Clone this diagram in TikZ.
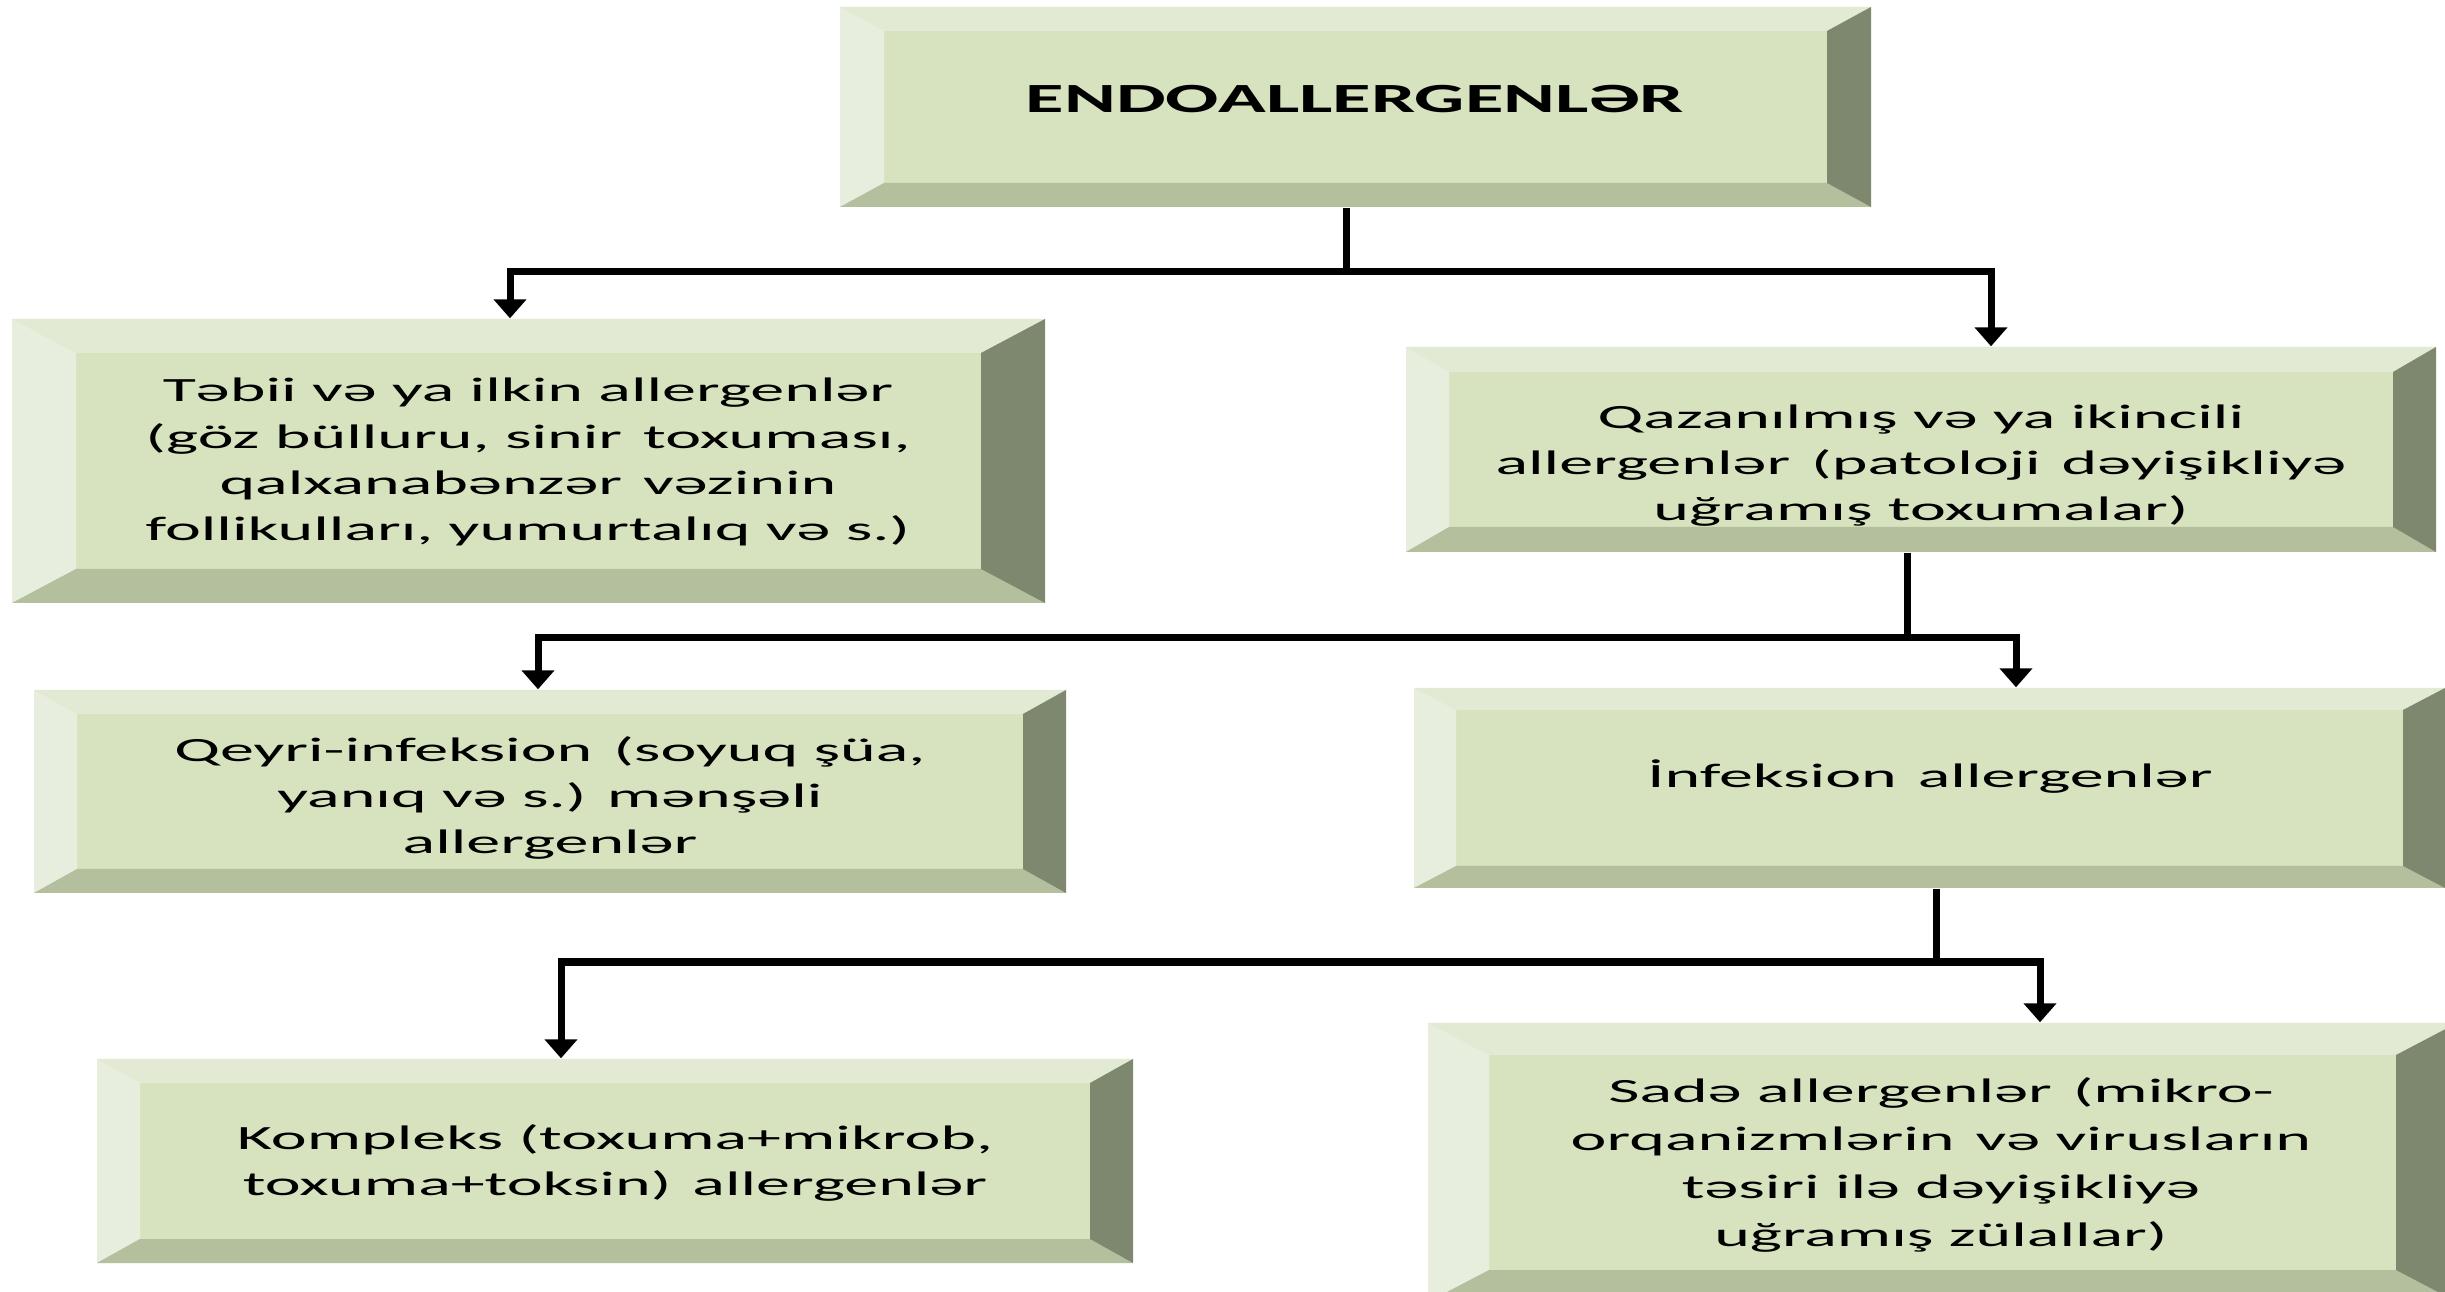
\documentclass[tikz,border=0pt]{standalone}
\usepackage{fontspec}
\usetikzlibrary{arrows.meta,fit}
\newfontfamily\boxfont{Carlito}[FakeStretch=2.0]
\newfontfamily\titlefont{Carlito}[FakeStretch=1.9]
\definecolor{faceC}{RGB}{215,227,191}
\definecolor{topC}{RGB}{226,234,211}
\definecolor{leftC}{RGB}{231,238,221}
\definecolor{botC}{RGB}{180,191,158}
\definecolor{rightC}{RGB}{126,136,110}
\newcommand\bevelbox[7]{%
  \fill[faceC] (#2,#3) rectangle (#4,#5);
  \fill[topC] (#2,#3) -- (#4,#3) -- ({#4-#6},{#3+#7}) -- ({#2+#6},{#3+#7}) -- cycle;
  \fill[leftC] (#2,#3) -- ({#2+#6},{#3+#7}) -- ({#2+#6},{#5-#7}) -- (#2,#5) -- cycle;
  \fill[botC] (#2,#5) -- ({#2+#6},{#5-#7}) -- ({#4-#6},{#5-#7}) -- (#4,#5) -- cycle;
  \fill[rightC] (#4,#3) -- (#4,#5) -- ({#4-#6},{#5-#7}) -- ({#4-#6},{#3+#7}) -- cycle;
  \node[fit={(#2,#3)(#4,#5)}, inner sep=0pt] (#1) {};
}
\tikzset{
  txt/.style={align=center, inner sep=0pt, text=black,
    font=\boxfont\fontsize{9.67pt}{13.1pt}\selectfont},
  txtw/.style={align=center, inner sep=0pt, text=black,
    font=\boxfont\fontsize{9.67pt}{13.7pt}\selectfont},
  ttl/.style={align=center, inner sep=0pt, text=black,
    font=\titlefont\bfseries\fontsize{11.8pt}{14pt}\selectfont},
  ln/.style={line width=0.07cm, draw=black},
  arr/.style={ln, -{Triangle[width=0.32cm,length=0.19cm]}}
}
\begin{document}
\begin{tikzpicture}[x=0.01cm,y=-0.01cm]
\useasboundingbox (0,0) rectangle (2445,1292);
\fill[white] (0,0) rectangle (2445,1292);
\clip (0,0) rectangle (2445,1292);

% boxes
\bevelbox{A}{840}{7}{1871}{207}{44}{24}
\bevelbox{B}{12}{319}{1045}{603}{64}{34}
\bevelbox{C}{1406}{347}{2436}{552}{43}{25}
\bevelbox{D}{34}{690}{1066}{893}{43}{24}
\bevelbox{E}{1414}{688}{2445}{888}{42}{22}
\bevelbox{F}{97}{1059}{1133}{1263}{43}{24}
\bevelbox{G}{1428}{1023}{2457}{1302}{61}{32}

% texts
\node[ttl] (At) at (1355,99) {ENDOALLERGENLƏR};
\node[txt] (Bt) at (528,462) {Təbii və ya ilkin allergenlər\\(göz bülluru, sinir\, toxuması,\\qalxanabənzər\, vəzinin\\follikulları, yumurtalıq və s.)};
\node[txt] (Ct) at (1921,466) {Qazanılmış və ya ikincili\\allergenlər\, (patoloji\, dəyişikliyə\\uğramış toxumalar)};
\node[txt] (Dt) at (550,798) {Qeyri-infeksion\, (soyuq şüa,\\yanıq və s.) mənşəli\\allergenlər};
\node[txt] (Et) at (1930,777) {İnfeksion\, allergenlər};
\node[txt] (Ft) at (615,1163) {Kompleks (toxuma+mikrob,\\toxuma+toksin)\, allergenlər};
\node[txtw] (Gt) at (1941,1165) {Sadə allergenlər\, (mikro-\\orqanizmlərin\, və virusların\\təsiri ilə dəyişikliyə\\uğramış zülallar)};

% connectors
\coordinate (jA) at (1346,272);
\coordinate (jAL) at (510,272);
\coordinate (jAR) at (1991,272);
\draw[ln] (A.south -| jA) -- (jA);
\draw[arr] (jA) -| (jAL |- B.north);
\draw[arr] (jA) -| (jAR |- C.north);

\coordinate (jC) at (1907,638);
\coordinate (jCL) at (538,638);
\coordinate (jCR) at (2016,638);
\draw[ln] (C.south -| jC) -- (jC);
\draw[arr] (jC) -| (jCL |- D.north);
\draw[arr] (jC) -| (jCR |- E.north);

\coordinate (jE) at (1936,962);
\coordinate (jEL) at (561,962);
\coordinate (jER) at (2040,962);
\draw[ln] (E.south -| jE) -- (jE);
\draw[arr] (jE) -| (jEL |- F.north);
\draw[arr] (jE) -| (jER |- G.north);
\end{tikzpicture}
\end{document}
